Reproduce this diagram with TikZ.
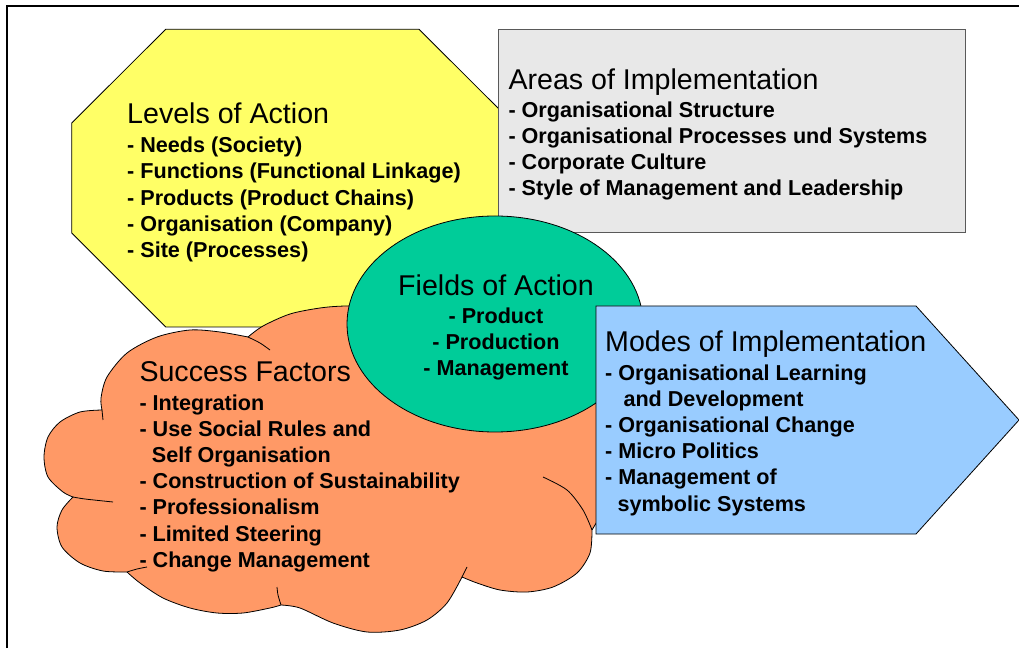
\documentclass[tikz,border=0pt]{standalone}
\usepackage{fontspec}
\setmainfont{Liberation Sans}

\definecolor{octyellow}{HTML}{FFFF66}
\definecolor{areagray}{HTML}{E8E8E8}
\definecolor{cloudorange}{HTML}{FF9966}
\definecolor{fieldgreen}{HTML}{00CC99}
\definecolor{modeblue}{HTML}{99CCFF}

% heading line of each block: larger, not bold
\newcommand{\blockhead}[1]{{\fontsize{28.6}{30}\selectfont\mdseries #1}}

\begin{document}
\begin{tikzpicture}[x=1pt, y=1pt,
    shape edge/.style={draw=black, line width=0.8pt},
    % blocks are placed by the baseline of their last line
    block/.style={anchor=base west, align=left, inner sep=0pt,
      font=\fontsize{21.6}{26.2}\selectfont\bfseries}]
  \useasboundingbox (0,0) rectangle (1019,648);
  % frame (only top and left edge fall on the page)
  \draw[line width=2pt] (7,0) -- (7,642) -- (1019,642);

  % Levels of Action (octagon)
  \filldraw[fill=octyellow, shape edge] (165.7,618.7) -- (419,618.7) -- (513,525) -- (513,415)
    -- (419,321) -- (165.7,321) -- (71.7,415) -- (71.7,525) -- cycle;

  % Areas of Implementation (box)
  \filldraw[fill=areagray, draw=black!65, line width=0.8pt] (498.3,416) rectangle (965,618.7);

  % Success Factors (cloud)
  \filldraw[fill=cloudorange, shape edge, line join=round]
    plot[smooth] coordinates {(248,311) (263,322) (290,334) (320,340) (345,342) (400,343)
      (500,348) (590,318) (612,248) (610,188) (598,128)}
    -- plot[smooth] coordinates {(592,118) (590,95) (577,75) (553,61) (527,56) (500,58)
      (477,65) (462,71)}
    -- plot[smooth] coordinates {(462,71) (447,45) (427,28) (400,18) (367,16) (333,25)
      (300,40) (281,43)}
    -- plot[smooth] coordinates {(281,43) (270,40) (243,35) (217,35) (190,40) (163,50)
      (140,65) (127,76)}
    -- plot[smooth] coordinates {(127,76) (103,77) (80,85) (62,101) (57,121) (62,138) (73,151)}
    -- plot[smooth] coordinates {(73,151) (63,156) (48,171) (44,191) (48,211) (60,226)
      (80,236) (102,238)}
    -- plot[smooth] coordinates {(102,238) (101,250) (107,271) (127,295) (157,311) (190,318)
      (220,316) (248,311)}
    -- cycle;
  % inner ends of the cloud bumps
  \draw[shape edge] plot[smooth] coordinates {(248,311) (260,305) (270,298)};
  \draw[shape edge] (102,238) -- (103,228);
  \draw[shape edge] plot[smooth] coordinates {(73,151) (85,149) (113,146)};
  \draw[shape edge] plot[smooth] coordinates {(127,76) (137,79) (147,81)};
  \draw[shape edge] plot[smooth] coordinates {(281,43) (278,53) (277,61)};
  \draw[shape edge] (462,71) -- (467,81);
  \draw[shape edge] plot[smooth] coordinates {(543,171) (567,158) (583,138) (592,118)};

  % Fields of Action (ellipse)
  \filldraw[fill=fieldgreen, shape edge] (495,324) ellipse [x radius=148pt, y radius=108pt];

  % Modes of Implementation (arrow)
  \filldraw[fill=modeblue, shape edge] (596,342) -- (916,342) -- (1019,228) -- (916,114)
    -- (596,114) -- cycle;

  % Texts
  \node (levels) [block] at (127,390.5) {\blockhead{Levels of Action}\\[2.5pt]
    - Needs (Society)\\
    - Functions (Functional Linkage)\\
    - Products (Product Chains)\\
    - Organisation (Company)\\
    - Site (Processes)};
  \node (areas) [block] at (508.3,452.1) {\blockhead{Areas of Implementation}\\[1.8pt]
    - Organisational Structure\\
    - Organisational Processes und Systems\\
    - Corporate Culture\\
    - Style of Management and Leadership};
  \node (fields) [block, anchor=base, align=center] at (496,272.3) {\blockhead{Fields of Action}\\[1.4pt]
    - Product\\
    - Production\\
    - Management};
  \node (success) [block] at (139.3,80.8) {\blockhead{Success Factors}\\[2.1pt]
    - Integration\\
    - Use Social Rules and\\
    \hspace*{12.4pt}Self Organisation\\
    - Construction of Sustainability\\
    - Professionalism\\
    - Limited Steering\\
    - Change Management};
  \node (modes) [block] at (605,137) {\blockhead{Modes of Implementation}\\[2.1pt]
    - Organisational Learning\\
    \hspace*{18.3pt}and Development\\
    - Organisational Change\\
    - Micro Politics\\
    - Management of\\
    \hspace*{12.3pt}symbolic Systems};
\end{tikzpicture}
\end{document}
